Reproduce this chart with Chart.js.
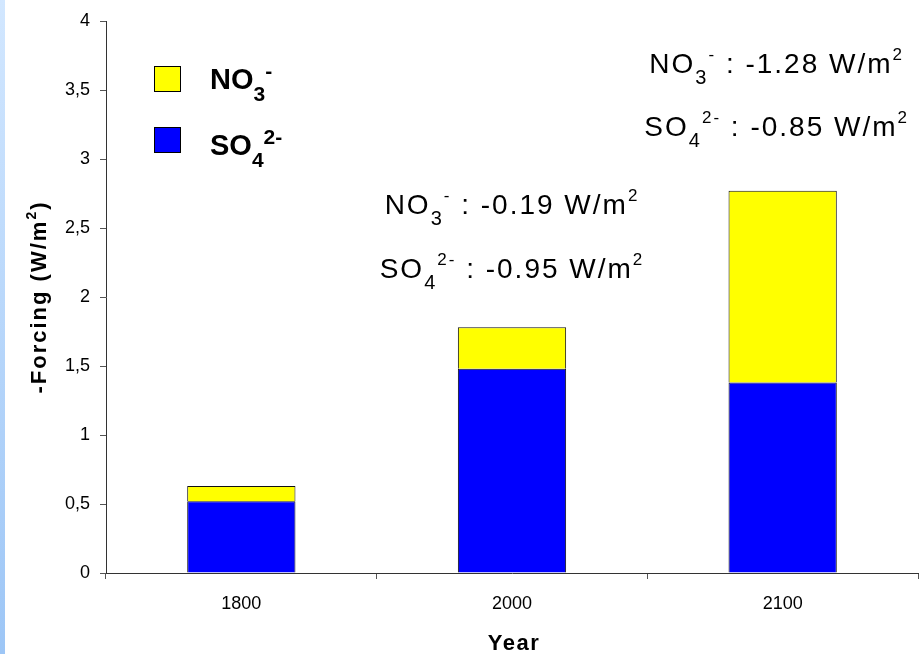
<!DOCTYPE html>
<html lang="en">
<head>
  <meta charset="UTF-8">
  <style>
    html, body { margin: 0; padding: 0; background: #ffffff; }
    #wrap { width: 920px; height: 654px; position: relative; }
  </style>
  <script src="https://cdn.jsdelivr.net/npm/chart.js"></script>
  <title>Forcing</title>
</head>
<body>
<div id="wrap"><canvas id="barChart" width="920" height="654"></canvas></div>
<script>
  // data
  var years = ['1800', '2000', '2100'];
  var so4 = [0.52, 1.48, 1.38];
  var no3 = [0.11, 0.30, 1.39];
  var yTicks = [0, 0.5, 1, 1.5, 2, 2.5, 3, 3.5, 4];
  // forcing notes written on the chart
  var noteNO3 = ['-0.19', '-1.28'];
  var noteSO4 = ['-0.95', '-0.85'];

  var FONT = '"Liberation Sans", Arial, sans-serif';

  // draws a line of text made of normal / sub / sup pieces
  // o: {size, bold, align, ls, sub, sup, subDy, supDy}
  function richText(ctx, parts, x, y, o) {
    var w = 0;
    function fnt(kind) {
      var k = kind === 'sub' ? o.sub : (kind === 'sup' ? o.sup : 1);
      return (o.bold ? 'bold ' : '') + Math.round(o.size * k) + 'px ' + FONT;
    }
    ctx.letterSpacing = (o.ls || 0) + 'px';
    parts.forEach(function (p) { ctx.font = fnt(p[1]); w += ctx.measureText(p[0]).width; });
    var cx = o.align === 'center' ? x - w / 2 : x;
    ctx.textAlign = 'left';
    ctx.textBaseline = 'alphabetic';
    parts.forEach(function (p) {
      ctx.font = fnt(p[1]);
      var dy = p[1] === 'sub' ? o.size * o.subDy : (p[1] === 'sup' ? -o.size * o.supDy : 0);
      ctx.fillText(p[0], cx, y + dy);
      cx += ctx.measureText(p[0]).width;
    });
    ctx.letterSpacing = '0px';
    return w;
  }

  var extras = {
    id: 'extras',
    beforeDraw: function (chart) {
      var ctx = chart.ctx;
      ctx.save();
      var g = ctx.createLinearGradient(0, 0, 0, 654);
      g.addColorStop(0, '#d2e7ff');
      g.addColorStop(1, '#9dc6f6');
      ctx.fillStyle = g;
      ctx.fillRect(0, 0, 5, 654);
      ctx.restore();
    },
    afterDraw: function (chart) {
      var ctx = chart.ctx;
      var xs = chart.scales.x;
      ctx.save();

      // legend
      ctx.strokeStyle = '#000';
      ctx.lineWidth = 1;
      ctx.fillStyle = '#ffff00';
      ctx.fillRect(154.5, 66.5, 26, 25);
      ctx.strokeRect(154.5, 66.5, 26, 25);
      ctx.fillStyle = '#0000ff';
      ctx.fillRect(154.5, 127.5, 26, 25);
      ctx.strokeRect(154.5, 127.5, 26, 25);
      ctx.fillStyle = '#000';
      var lg = { size: 29, bold: true, align: 'left', ls: 0, sub: 0.72, sup: 0.72, subDy: 0.4, supDy: 0.38 };
      richText(ctx, [['NO', 'n'], ['3', 'sub'], ['-', 'sup']], 210, 89, lg);
      richText(ctx, [['SO', 'n'], ['4', 'sub'], ['2-', 'sup']], 210, 155, lg);

      // notes
      var nt = { size: 28, bold: false, align: 'center', ls: 2, sub: 0.72, sup: 0.62, subDy: 0.4, supDy: 0.45 };
      var notePos = [[xs.getPixelForValue(1), 214, 278], [xs.getPixelForValue(2) - 6, 73, 136]];
      for (var i = 0; i < notePos.length; i++) {
        var cx = notePos[i][0];
        richText(ctx, [['NO', 'n'], ['3', 'sub'], ['-', 'sup'], [' : ' + noteNO3[i] + ' W/m', 'n'], ['2', 'sup']], cx, notePos[i][1], nt);
        richText(ctx, [['SO', 'n'], ['4', 'sub'], ['2-', 'sup'], [' : ' + noteSO4[i] + ' W/m', 'n'], ['2', 'sup']], cx, notePos[i][2], nt);
      }

      // axis titles
      var tt = { size: 22, bold: true, align: 'center', ls: 1.5, sub: 0.7, sup: 0.62, subDy: 0.3, supDy: 0.45 };
      richText(ctx, [['Year', 'n']], 514, 650, tt);
      ctx.translate(46, (chart.chartArea.top + chart.chartArea.bottom) / 2);
      ctx.rotate(-Math.PI / 2);
      tt.ls = 2;
      richText(ctx, [['-Forcing (W/m', 'n'], ['2', 'sup'], [')', 'n']], 0, 0, tt);
      ctx.restore();
    }
  };

  var ctx = document.getElementById('barChart').getContext('2d');
  var barChart = new Chart(ctx, {
    type: 'bar',
    data: {
      labels: years,
      datasets: [
        { label: 'SO4', data: so4, backgroundColor: '#0000ff', borderColor: '#111', borderWidth: 1,
          categoryPercentage: 0.8, barPercentage: 0.5 },
        { label: 'NO3', data: no3, backgroundColor: '#ffff00', borderColor: '#111', borderWidth: 1,
          categoryPercentage: 0.8, barPercentage: 0.5 }
      ]
    },
    options: {
      responsive: false,
      animation: false,
      layout: { padding: { top: 21, right: 2, left: 0, bottom: 0 } },
      plugins: { legend: { display: false }, tooltip: { enabled: false } },
      scales: {
        x: {
          stacked: true,
          afterFit: function (s) { s.height = 81; },
          grid: { drawOnChartArea: false, tickLength: 6, color: '#555' },
          border: { color: '#333', width: 1 },
          ticks: { color: '#000', padding: 14, font: { family: FONT, size: 18 } }
        },
        y: {
          stacked: true,
          min: 0, max: 4,
          afterFit: function (s) { s.width = 106; },
          afterBuildTicks: function (s) { s.ticks = yTicks.map(function (v) { return { value: v }; }); },
          grid: { drawOnChartArea: false, tickLength: 6, color: '#555' },
          border: { color: '#333', width: 1 },
          ticks: { color: '#000', padding: 10, font: { family: FONT, size: 18 },
            callback: function (v) { return String(v).replace('.', ','); } }
        }
      }
    },
    plugins: [extras]
  });
</script>
</body>
</html>
